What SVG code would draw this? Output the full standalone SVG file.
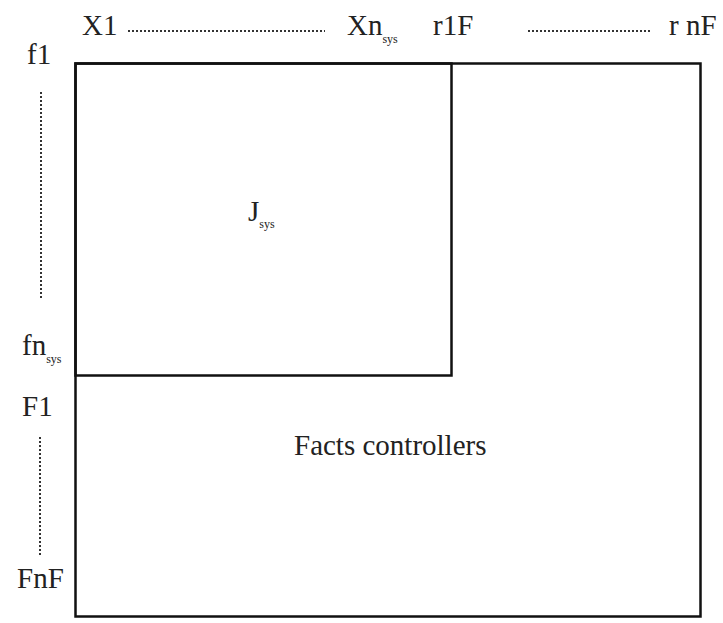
<svg xmlns="http://www.w3.org/2000/svg" width="723" height="623" viewBox="0 0 723 623">
  <style>
    .box { fill: none; stroke: #111; stroke-width: 2.5; }
    .dots { fill: none; stroke: #333; stroke-width: 2; stroke-dasharray: 2 2; }
    text { font-family: 'Liberation Serif', 'DejaVu Serif', serif; font-size: 29px; fill: #222; }
    .sub { font-size: 12px; }
  </style>
  <rect width="723" height="623" fill="#fff"/>

  <!-- matrix outline -->
  <g id="outer">
    <rect class="box" x="75.5" y="63.5" width="625" height="553"/>
    <text x="294" y="455">Facts controllers</text>
  </g>
  <g id="jsys">
    <rect class="box" x="75.5" y="63.5" width="376" height="312"/>
    <text x="248" y="221">J<tspan class="sub" dy="7">sys</tspan></text>
  </g>

  <!-- column labels -->
  <g id="cols">
    <text x="82" y="35">X1</text>
    <text x="347" y="35">Xn<tspan class="sub" dy="8">sys</tspan></text>
    <text x="433" y="35">r1F</text>
    <text x="669" y="35">r nF</text>
  </g>

  <!-- row labels -->
  <g id="rows">
    <text x="27" y="64">f1</text>
    <text x="22" y="355">fn<tspan class="sub" dy="8">sys</tspan></text>
    <text x="22" y="416">F1</text>
    <text x="17" y="588">FnF</text>
  </g>

  <!-- ellipsis leaders -->
  <g id="connectors">
    <line class="dots" x1="128" y1="31" x2="325" y2="31"/>
    <line class="dots" x1="528" y1="31" x2="650" y2="31"/>
    <line class="dots" x1="41" y1="92" x2="41" y2="298"/>
    <line class="dots" x1="40" y1="437" x2="40" y2="556"/>
  </g>
</svg>
